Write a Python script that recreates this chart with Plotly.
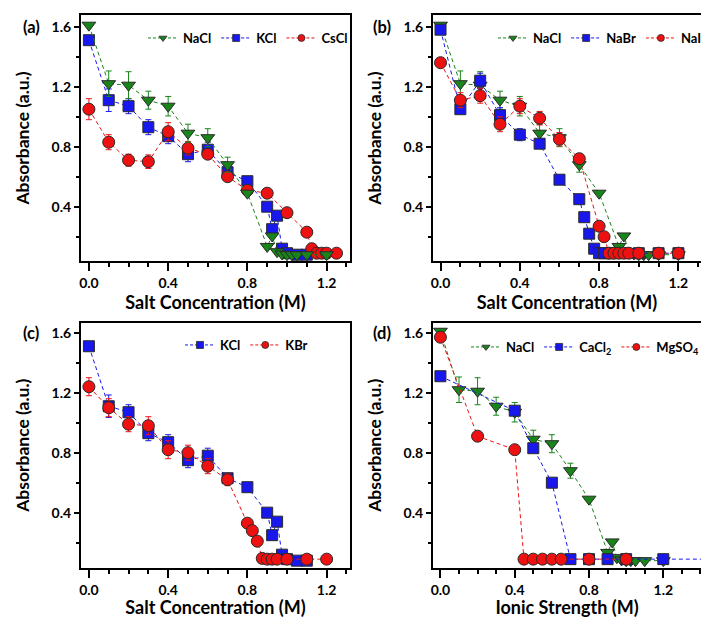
import plotly.graph_objects as go

# ---------------- data ----------------
salt_ticks = [0.0, 0.4, 0.8, 1.2]

nacl_x = [0, 0.1, 0.2, 0.3, 0.4, 0.5, 0.6, 0.7, 0.8, 0.9, 0.925, 0.95, 0.975, 1.0, 1.025, 1.05, 1.1, 1.2]
nacl_y = [1.61, 1.22, 1.21, 1.11, 1.07, 0.89, 0.86, 0.68, 0.49, 0.135, 0.205, 0.10, 0.085, 0.08, 0.08, 0.08, 0.08, 0.08]
nacl_e = [0, 0.085, 0.09, 0.06, 0.065, 0.06, 0.06, 0.05, 0, 0, 0, 0, 0, 0, 0, 0, 0, 0]

kcl_x = [0, 0.1, 0.2, 0.3, 0.4, 0.5, 0.6, 0.7, 0.8, 0.9, 0.925, 0.95, 0.975, 1.0, 1.05, 1.1]
kcl_y = [1.51, 1.11, 1.07, 0.93, 0.87, 0.75, 0.78, 0.63, 0.57, 0.40, 0.25, 0.34, 0.12, 0.09, 0.08, 0.08]
kcl_e = [0, 0.075, 0.05, 0.05, 0.05, 0.05, 0.05, 0.03, 0, 0, 0, 0, 0, 0, 0, 0]

cscl_x = [0, 0.1, 0.2, 0.3, 0.4, 0.5, 0.6, 0.7, 0.8, 0.9, 1.0, 1.1, 1.125, 1.15, 1.175, 1.2, 1.25]
cscl_y = [1.05, 0.83, 0.71, 0.70, 0.90, 0.79, 0.75, 0.60, 0.51, 0.49, 0.36, 0.23, 0.12, 0.09, 0.09, 0.09, 0.09]
cscl_e = [0.07, 0.05, 0.04, 0.045, 0.06, 0.045, 0.02, 0.02, 0, 0, 0, 0, 0, 0, 0, 0, 0]

nabr_x = [0, 0.1, 0.2, 0.3, 0.4, 0.5, 0.6, 0.7, 0.725, 0.75, 0.775, 0.8, 0.825, 0.85, 1.0, 1.1, 1.2]
nabr_y = [1.58, 1.05, 1.24, 1.01, 0.88, 0.82, 0.58, 0.45, 0.33, 0.22, 0.12, 0.09, 0.09, 0.09, 0.09, 0.09, 0.09]
nabr_e = [0, 0.03, 0.05, 0.05, 0.04, 0.03, 0, 0, 0, 0, 0, 0, 0, 0, 0, 0, 0]

nai_x = [0, 0.1, 0.2, 0.3, 0.4, 0.5, 0.6, 0.7, 0.8, 0.825, 0.85, 0.875, 0.9, 0.925, 0.95, 1.0, 1.1, 1.2]
nai_y = [1.36, 1.11, 1.14, 0.95, 1.07, 0.99, 0.85, 0.72, 0.27, 0.20, 0.09, 0.09, 0.09, 0.09, 0.09, 0.09, 0.09, 0.09]
nai_e = [0, 0.05, 0.05, 0.05, 0.05, 0.045, 0.045, 0.03, 0, 0, 0, 0, 0, 0, 0, 0, 0, 0]

kbr_x = [0, 0.1, 0.2, 0.3, 0.4, 0.5, 0.6, 0.7, 0.8, 0.825, 0.85, 0.875, 0.9, 0.925, 0.95, 1.0, 1.1, 1.2]
kbr_y = [1.24, 1.10, 0.99, 0.98, 0.82, 0.80, 0.71, 0.62, 0.33, 0.28, 0.21, 0.095, 0.09, 0.09, 0.09, 0.09, 0.09, 0.09]
kbr_e = [0.06, 0.06, 0.05, 0.06, 0.06, 0.05, 0.05, 0.04, 0, 0, 0, 0, 0, 0, 0, 0, 0, 0]

cacl2_x = [0, 0.4, 0.5, 0.6, 0.7, 0.8, 0.9, 1.0, 1.2, 1.5]
cacl2_y = [1.31, 1.08, 0.83, 0.60, 0.09, 0.09, 0.09, 0.09, 0.09, 0.09]
cacl2_e = [0, 0.03, 0, 0, 0, 0, 0, 0, 0, 0]

mgso4_x = [0, 0.2, 0.4, 0.45, 0.5, 0.55, 0.6, 0.65, 0.8, 1.0]
mgso4_y = [1.57, 0.91, 0.82, 0.09, 0.09, 0.09, 0.09, 0.09, 0.09, 0.09]
mgso4_e = [0, 0, 0, 0, 0, 0, 0, 0, 0, 0]

# ---------------- styles ----------------
GREEN = "#18841a"
BLUE = "#1717ee"
RED = "#ee1111"
FONT = "Lato"

STYLE = {
    "NaCl": (GREEN, "triangle-down", 12),
    "KCl": (BLUE, "square", 11),
    "CsCl": (RED, "circle", 12),
    "NaBr": (BLUE, "square", 11),
    "NaI": (RED, "circle", 12),
    "KBr": (RED, "circle", 12),
    "CaCl<sub>2</sub>": (BLUE, "square", 11),
    "MgSO<sub>4</sub>": (RED, "circle", 12),
}

W, H = 701, 618

fig = go.Figure()


def add_series(name, xs, ys, errs, panel):
    color, symbol, size = STYLE[name]
    sfx = "" if panel == 1 else str(panel)
    fig.add_trace(go.Scatter(
        x=xs, y=ys, mode="lines+markers", showlegend=False,
        xaxis="x" + sfx, yaxis="y" + sfx,
        line=dict(color=color, width=1, dash="4px,3px"),
        marker=dict(symbol=symbol, size=size, color=color,
                    line=dict(color="#2a2a2a", width=1)),
        error_y=dict(type="data", array=errs, color=color, thickness=1, width=3),
    ))


def add_key(name, panel):
    color, symbol, size = STYLE[name]
    sfx = "" if panel == 1 else str(panel)
    fig.add_trace(go.Scatter(
        x=[None], y=[None], mode="lines+markers", name=name,
        xaxis="x" + sfx, yaxis="y" + sfx,
        legend="legend" + sfx,
        line=dict(color=color, width=1, dash="3px,2px"),
        marker=dict(symbol=symbol, size=7, color=color,
                    line=dict(color="#2a2a2a", width=0.8)),
    ))


# panel (a)
add_series("KCl", kcl_x, kcl_y, kcl_e, 1)
add_series("CsCl", cscl_x, cscl_y, cscl_e, 1)
add_series("NaCl", nacl_x, nacl_y, nacl_e, 1)
for n in ["NaCl", "KCl", "CsCl"]:
    add_key(n, 1)

# panel (b)
add_series("NaCl", nacl_x, nacl_y, nacl_e, 2)
add_series("NaBr", nabr_x, nabr_y, nabr_e, 2)
add_series("NaI", nai_x, nai_y, nai_e, 2)
for n in ["NaCl", "NaBr", "NaI"]:
    add_key(n, 2)

# panel (c)
add_series("KCl", kcl_x, kcl_y, kcl_e, 3)
add_series("KBr", kbr_x, kbr_y, kbr_e, 3)
for n in ["KCl", "KBr"]:
    add_key(n, 3)

# panel (d)
add_series("NaCl", nacl_x, nacl_y, nacl_e, 4)
add_series("CaCl<sub>2</sub>", cacl2_x, cacl2_y, cacl2_e, 4)
add_series("MgSO<sub>4</sub>", mgso4_x, mgso4_y, mgso4_e, 4)
for n in ["NaCl", "CaCl<sub>2</sub>", "MgSO<sub>4</sub>"]:
    add_key(n, 4)

tickfont = dict(family=FONT, size=14, color="black", weight="bold")
xtitlefont = dict(family=FONT, size=18, color="black", weight="bold")
ytitlefont = dict(family=FONT, size=17.5, color="black", weight="bold")


def xaxis(domain, rng, title):
    return dict(
        domain=domain, range=rng, showgrid=False, zeroline=False,
        showline=True, linecolor="black", linewidth=2, mirror=True,
        ticks="outside", ticklen=8, tickwidth=1.5, tickcolor="black",
        tickmode="array", tickvals=salt_ticks, ticktext=[f"{v:.1f}" for v in salt_ticks],
        minor=dict(dtick=0.1, tick0=0, ticks="outside", ticklen=4, tickwidth=1.5, tickcolor="black"),
        tickfont=tickfont,
        title=dict(text=title, font=xtitlefont, standoff=6),
    )


def yaxis(domain, rng, mirror):
    return dict(
        domain=domain, range=rng, showgrid=False, zeroline=False,
        showline=True, linecolor="black", linewidth=2, mirror=mirror,
        ticks="outside", ticklen=5, tickwidth=1.5, tickcolor="black",
        tick0=0.4, dtick=0.4, tickformat=".1f",
        minor=dict(dtick=0.2, tick0=0, ticks="outside", ticklen=3, tickwidth=1.5, tickcolor="black"),
        tickfont=tickfont,
        title=dict(text="Absorbance (a.u.)", font=ytitlefont, standoff=17),
    )


xl = [81 / W, 350 / W]
xr = [433 / W, 1.0]
ytop = [1 - 261 / H, 1 - 15 / H]
ybot = [1 - 567.7 / H, 1 - 322.7 / H]

legend_common = dict(orientation="h", bgcolor="rgba(0,0,0,0)", borderwidth=0,
                     font=dict(family=FONT, size=13, color="black", weight="bold"),
                     xref="paper", yref="paper", yanchor="middle", xanchor="left",
                     itemwidth=30)

fig.update_layout(
    width=W, height=H,
    margin=dict(l=0, r=0, t=0, b=0, autoexpand=False),
    paper_bgcolor="white", plot_bgcolor="white",
    xaxis=xaxis(xl, [-0.040, 1.318], "Salt Concentration (M)"),
    yaxis=dict(yaxis(ytop, [0.038, 1.678], True), anchor="x"),
    xaxis2=dict(xaxis(xr, [-0.038, 1.314], "Salt Concentration (M)"), anchor="y2"),
    yaxis2=dict(yaxis(ytop, [0.038, 1.678], False), anchor="x2"),
    xaxis3=dict(xaxis(xl, [-0.040, 1.318], "Salt Concentration (M)"), anchor="y3"),
    yaxis3=dict(yaxis(ybot, [0.033, 1.667], True), anchor="x3"),
    xaxis4=dict(xaxis(xr, [-0.040, 1.403], "Ionic Strength (M)"), anchor="y4"),
    yaxis4=dict(yaxis(ybot, [0.033, 1.667], False), anchor="x4"),
    legend=dict(legend_common, x=143 / W, y=1 - 38 / H),
    legend2=dict(legend_common, x=493 / W, y=1 - 38 / H),
    legend3=dict(legend_common, x=180 / W, y=1 - 345 / H),
    legend4=dict(legend_common, x=466 / W, y=1 - 347 / H),
)

# panel letters
for label, px, py in [("(a)", 21, 26.7), ("(b)", 371, 26.7), ("(c)", 21, 332.7), ("(d)", 371, 332.7)]:
    fig.add_annotation(text=label, x=px / W, y=1 - py / H, xref="paper", yref="paper",
                       xanchor="left", yanchor="middle", showarrow=False,
                       font=dict(family=FONT, size=16.5, color="black", weight="bold"))

fig.write_html("out.html")
